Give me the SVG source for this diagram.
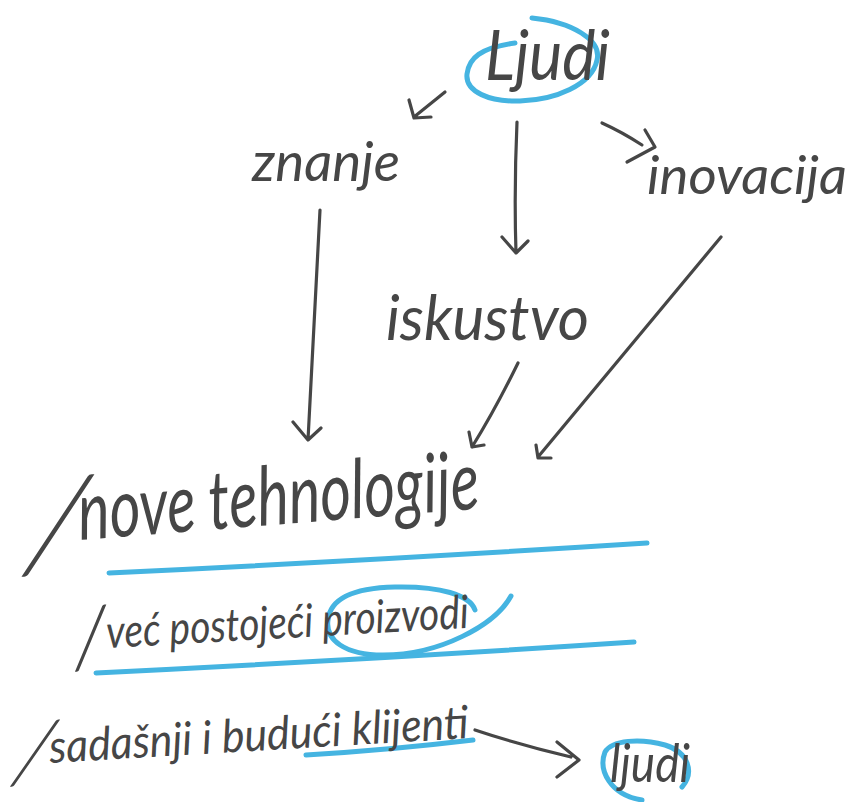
<svg xmlns="http://www.w3.org/2000/svg" width="856" height="802" viewBox="0 0 856 802">
<style>
  .t { font-family: Lato, "Open Sans", "DejaVu Sans", sans-serif; font-style: italic; fill: #464646; }
  .s { font-family: Lato, "Open Sans", "DejaVu Sans", sans-serif; font-style: italic; font-weight: 300; fill: #464646; }
  .c { fill: none; stroke: #464646; stroke-width: 3.2; stroke-linecap: round; stroke-linejoin: round; }
  .h { fill: none; stroke: #45b4e1; stroke-width: 5; stroke-linecap: round; stroke-linejoin: round; }
</style>
<rect width="856" height="802" fill="#ffffff"/>

<g id="highlights">
  <path class="h" d="M532 18 C572 22 602 40 597 60 C592 85 555 100 520 101 C490 102 465 92 467 74 C469 58 480 48 515 43"/>
  <path class="h" d="M109 573 Q380 560 647 543"/>
  <path class="h" d="M511 596 C495 625 440 655 383 655 C345 655 325 640 328 620 C330 600 350 588 395 587 C440 586 470 595 475 610"/>
  <path class="h" d="M96 673 Q360 660 634 642"/>
  <path class="h" d="M306 755 Q390 750 473 740"/>
  <path class="h" d="M642 800 C610 795 598 770 605 752 C612 740 640 738 665 745 C688 752 695 772 682 787"/>
</g>

<g id="connectors">
  <path class="c" d="M445 92 L414 117 M409 100 L414 118 L431 117"/>
  <path class="c" d="M517 122 Q514 190 516 253 M502 237 L516 253 L528 241"/>
  <path class="c" d="M602 123 Q622 132 642 145 M645 130 L655 147 L627 162"/>
  <path class="c" d="M320 210 L308 440 M293 422 L308 440 L321 428"/>
  <path class="c" d="M518 363 Q495 410 472 447 M469 432 L472 447 L484 445"/>
  <path class="c" d="M721 237 L538 457 M536 445 L538 458 L551 458"/>
  <path class="c" d="M475 730 Q520 745 571 757 M557 742 L579 760 L557 777"/>
</g>

<g id="node-ljudi">
  <text class="t" x="485" y="80" font-size="70" textLength="125" lengthAdjust="spacingAndGlyphs">Ljudi</text>
</g>
<g id="node-znanje">
  <text class="t" x="252" y="181" font-size="54" textLength="148" lengthAdjust="spacingAndGlyphs">znanje</text>
</g>
<g id="node-inovacija">
  <text class="t" x="647" y="194" font-size="53" textLength="200" lengthAdjust="spacingAndGlyphs">inovacija</text>
</g>
<g id="node-iskustvo">
  <text class="t" x="386" y="340" font-size="62" textLength="203" lengthAdjust="spacingAndGlyphs">iskustvo</text>
</g>
<g id="node-nove-tehnologije">
  <text class="s" transform="translate(23 571) skewX(-9)" x="0" y="0" font-size="134">/</text>
  <text class="t" transform="translate(80 540) rotate(-4.5)" x="0" y="0" font-size="82" textLength="402" lengthAdjust="spacingAndGlyphs">nove tehnologije</text>
</g>
<g id="node-vec-postojeci">
  <text class="s" transform="translate(75 668) skewX(5)" x="0" y="0" font-size="88">/</text>
  <text class="t" transform="translate(107 648) rotate(-3.2)" x="0" y="0" font-size="46" textLength="363" lengthAdjust="spacingAndGlyphs">već postojeći proizvodi</text>
</g>
<g id="node-klijenti">
  <text class="s" transform="translate(11 783) skewX(-11)" x="0" y="0" font-size="88">/</text>
  <text class="t" transform="translate(50 763) rotate(-3.4)" x="0" y="0" font-size="46" textLength="420" lengthAdjust="spacingAndGlyphs">sadašnji i budući klijenti</text>
</g>
<g id="node-ljudi-2">
  <text class="t" x="610" y="782" font-size="52" textLength="80" lengthAdjust="spacingAndGlyphs">ljudi</text>
</g>
</svg>
